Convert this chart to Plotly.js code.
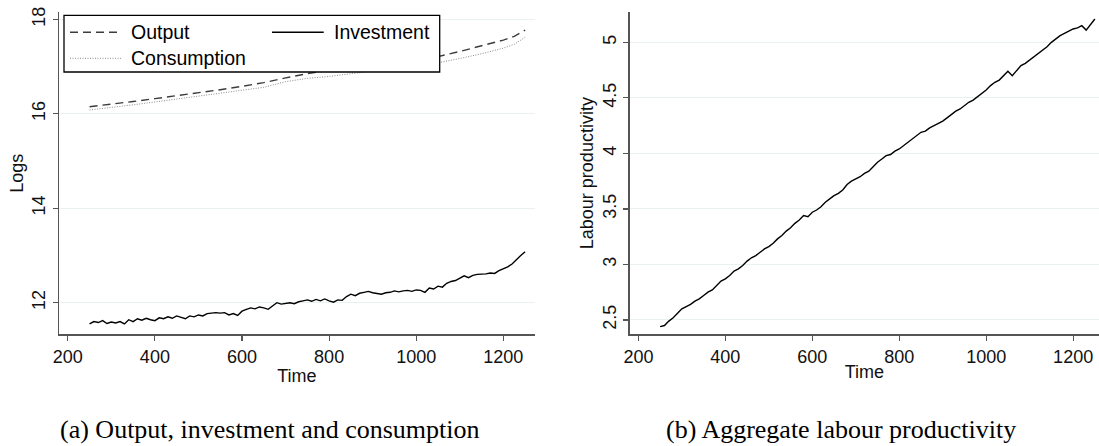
<!DOCTYPE html>
<html>
<head>
<meta charset="utf-8">
<script src="https://cdn.plot.ly/plotly-3.0.1.min.js"></script>
<style>html,body{margin:0;padding:0;background:#fff;}#chart{width:1099px;height:446px;}</style>
</head>
<body>
<div id="chart"></div>
<script>
// ---- data ----
const timeSmooth = [250,300,350,400,450,500,550,600,650,700,750,800,850,900,950,1000,1050,1100,1150,1200,1225,1250];
const outputLog = [16.15,16.20,16.26,16.32,16.38,16.45,16.51,16.58,16.66,16.76,16.85,16.92,16.98,17.04,17.10,17.15,17.21,17.32,17.44,17.56,17.64,17.77];
const consumptionLog = [16.08,16.13,16.19,16.25,16.31,16.37,16.43,16.49,16.56,16.68,16.75,16.79,16.85,16.91,16.97,17.02,17.08,17.17,17.27,17.39,17.47,17.62];

const timeFine = [250,260,270,280,290,300,310,320,330,340,350,360,370,380,390,400,410,420,430,440,450,460,470,480,490,500,510,520,530,540,550,560,570,580,590,600,610,620,630,640,650,660,670,680,690,700,710,720,730,740,750,760,770,780,790,800,810,820,830,840,850,860,870,880,890,900,910,920,930,940,950,960,970,980,990,1000,1010,1020,1030,1040,1050,1060,1070,1080,1090,1100,1110,1120,1130,1140,1150,1160,1170,1180,1190,1200,1210,1220,1230,1240,1250];
const investmentLog = [11.55,11.60,11.58,11.62,11.56,11.59,11.57,11.60,11.55,11.64,11.60,11.66,11.63,11.67,11.64,11.62,11.68,11.66,11.70,11.67,11.72,11.69,11.66,11.72,11.70,11.74,11.72,11.77,11.78,11.79,11.78,11.79,11.74,11.77,11.73,11.82,11.86,11.89,11.87,11.91,11.89,11.86,11.93,12.00,11.97,11.98,12.00,11.98,12.02,12.04,12.06,12.03,12.07,12.04,12.08,12.04,12.01,12.06,12.05,12.13,12.18,12.15,12.20,12.22,12.24,12.21,12.20,12.18,12.21,12.22,12.25,12.23,12.25,12.26,12.24,12.27,12.26,12.22,12.31,12.29,12.35,12.33,12.41,12.45,12.47,12.52,12.57,12.53,12.58,12.60,12.60,12.61,12.63,12.62,12.68,12.72,12.76,12.82,12.92,13.00,13.08];
const productivity = [2.44,2.45,2.49,2.52,2.56,2.60,2.62,2.64,2.67,2.69,2.72,2.75,2.77,2.81,2.85,2.87,2.90,2.94,2.96,2.99,3.03,3.06,3.08,3.11,3.14,3.16,3.19,3.23,3.26,3.30,3.33,3.37,3.40,3.44,3.43,3.47,3.49,3.52,3.56,3.59,3.62,3.64,3.67,3.72,3.75,3.77,3.79,3.82,3.84,3.88,3.92,3.95,3.98,3.99,4.02,4.04,4.07,4.10,4.13,4.16,4.19,4.20,4.23,4.25,4.27,4.29,4.32,4.35,4.38,4.40,4.43,4.46,4.48,4.51,4.54,4.57,4.61,4.64,4.66,4.70,4.74,4.70,4.75,4.79,4.81,4.84,4.87,4.90,4.93,4.96,5.00,5.03,5.06,5.08,5.10,5.12,5.13,5.15,5.11,5.16,5.21];

const xTicks = [200,400,600,800,1000,1200];
const yTicksLeft = [12,14,16,18];
const yTicksRight = [2.5,3,3.5,4,4.5,5];
const yTickTextRight = ['2.5','3','3.5','4','4.5','5'];
const seriesNames = ['Output','Investment','Consumption'];
const captions = ['(a) Output, investment and consumption','(b) Aggregate labour productivity'];

// ---- styling ----
const W = 1099, H = 446;
const px = v => v / W;
const py = v => (H - v) / H;
const sans = 'Liberation Sans, Arial, Helvetica, sans-serif';
const serif = 'Liberation Serif, Times New Roman, serif';
const axisCol = '#555555';
const gridCol = '#eaf1f3';
const tickSize = 18;
const legSize = 19.5;

const traces = [
  {x: timeSmooth, y: outputLog, name: seriesNames[0], mode: 'lines', xaxis: 'x', yaxis: 'y',
   line: {color: '#3c3c3c', width: 1.4, dash: '8px,5px'}},
  {x: timeFine, y: investmentLog, name: seriesNames[1], mode: 'lines', xaxis: 'x', yaxis: 'y',
   line: {color: '#000000', width: 1.4}},
  {x: timeSmooth, y: consumptionLog, name: seriesNames[2], mode: 'lines', xaxis: 'x', yaxis: 'y',
   line: {color: '#8a8a8a', width: 1, dash: '1px,1.5px'}},
  {x: timeFine, y: productivity, name: 'Labour productivity', mode: 'lines', xaxis: 'x2', yaxis: 'y2',
   line: {color: '#000000', width: 1.4}}
];

const commonX = {
  ticks: 'outside', ticklen: 5, tickwidth: 1.2, tickcolor: axisCol,
  showline: true, linecolor: axisCol, linewidth: 1.6,
  showgrid: false, zeroline: false,
  tickvals: xTicks, tickfont: {family: sans, size: tickSize, color: '#111'},
  title: {text: 'Time', font: {family: sans, size: tickSize, color: '#111'}, standoff: 0}
};
const commonY = {
  ticks: 'outside', ticklen: 5, tickwidth: 1.2, tickcolor: axisCol,
  showline: true, linecolor: axisCol, linewidth: 1.6,
  showgrid: true, gridcolor: gridCol, gridwidth: 1, zeroline: false,
  tickangle: -90, tickfont: {family: sans, size: tickSize, color: '#111'}
};

const yDom = [py(334.3), py(12)];

const layout = {
  width: W, height: H,
  margin: {l: 0, r: 0, t: 0, b: 0, pad: 0},
  paper_bgcolor: '#ffffff', plot_bgcolor: '#ffffff',
  showlegend: false,
  xaxis: Object.assign({}, commonX, {domain: [px(59.2), px(534.7)], range: [180.3, 1272], anchor: 'y'}),
  yaxis: Object.assign({}, commonY, {domain: yDom, range: [11.331, 18.155], anchor: 'x',
    tickvals: yTicksLeft,
    title: {text: 'Logs', font: {family: sans, size: tickSize, color: '#111'}, standoff: 1}}),
  xaxis2: Object.assign({}, commonX, {domain: [px(629.8), 1], range: [180.2, 1259.5], anchor: 'y2'}),
  yaxis2: Object.assign({}, commonY, {domain: yDom, range: [2.371, 5.273], anchor: 'x2',
    tickvals: yTicksRight, ticktext: yTickTextRight,
    title: {text: 'Labour productivity', font: {family: sans, size: tickSize, color: '#111'}, standoff: 1}}),
  shapes: [
    // legend box
    {type: 'rect', xref: 'paper', yref: 'paper', x0: px(64), x1: px(439.7), y0: py(72), y1: py(15.3),
     fillcolor: '#ffffff', line: {color: '#000000', width: 1.3}, layer: 'above'},
    {type: 'line', xref: 'paper', yref: 'paper', x0: px(70), x1: px(122), y0: py(32.3), y1: py(32.3),
     line: {color: '#3c3c3c', width: 1.4, dash: '8px,5px'}},
    {type: 'line', xref: 'paper', yref: 'paper', x0: px(272), x1: px(323.7), y0: py(32.3), y1: py(32.3),
     line: {color: '#000000', width: 1.4}},
    {type: 'line', xref: 'paper', yref: 'paper', x0: px(70), x1: px(122), y0: py(58.3), y1: py(58.3),
     line: {color: '#8a8a8a', width: 1, dash: '1px,1.5px'}}
  ],
  annotations: [
    {text: seriesNames[0], xref: 'paper', yref: 'paper', x: px(129), y: py(32.3), xanchor: 'left', yanchor: 'middle',
     showarrow: false, font: {family: sans, size: legSize, color: '#000'}},
    {text: seriesNames[1], xref: 'paper', yref: 'paper', x: px(331.5), y: py(32.3), xanchor: 'left', yanchor: 'middle',
     showarrow: false, font: {family: sans, size: legSize, color: '#000'}},
    {text: seriesNames[2], xref: 'paper', yref: 'paper', x: px(129), y: py(58.3), xanchor: 'left', yanchor: 'middle',
     showarrow: false, font: {family: sans, size: legSize, color: '#000'}},
    {text: captions[0], xref: 'paper', yref: 'paper', x: px(270), y: py(429), xanchor: 'center', yanchor: 'middle',
     showarrow: false, font: {family: serif, size: 26, color: '#000'}},
    {text: captions[1], xref: 'paper', yref: 'paper', x: px(841), y: py(429), xanchor: 'center', yanchor: 'middle',
     showarrow: false, font: {family: serif, size: 26, color: '#000'}}
  ]
};

Plotly.newPlot('chart', traces, layout, {displayModeBar: false, staticPlot: true});
</script>
</body>
</html>
